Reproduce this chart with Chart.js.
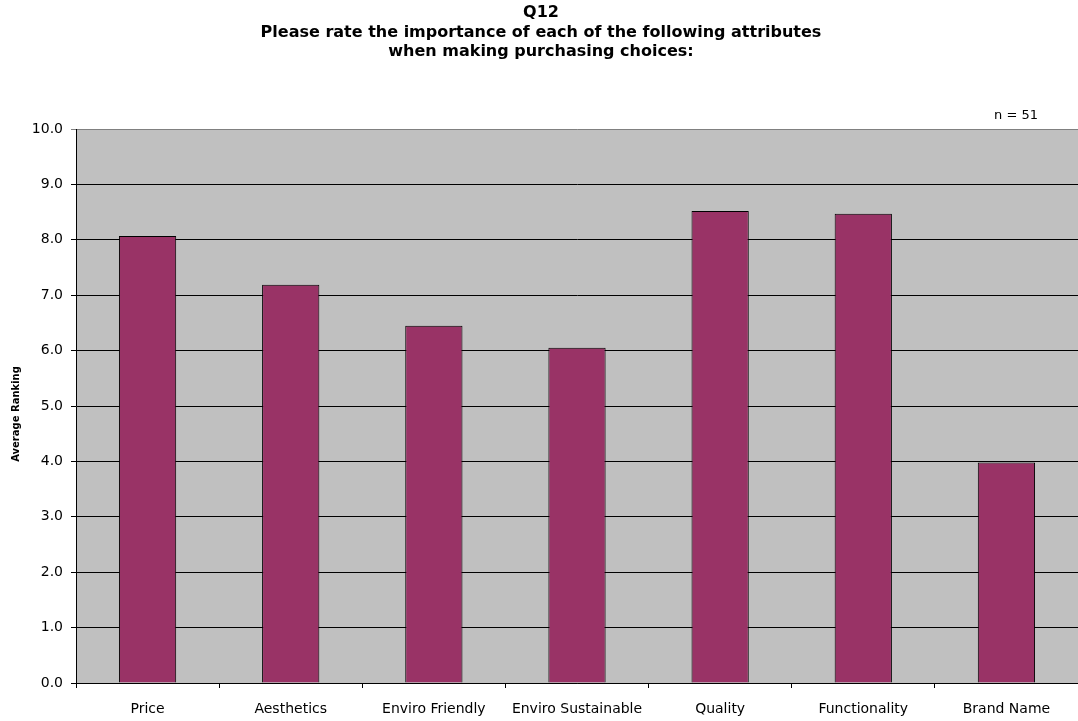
<!DOCTYPE html>
<html>
<head>
<meta charset="utf-8">
<script src="https://cdn.jsdelivr.net/npm/chart.js@4"></script>
<style>
  body { margin: 0; background: #fff; }
  canvas { display: block; }
</style>
</head>
<body>
<canvas id="q12Chart" width="1078" height="721"></canvas>
<script>
// Q12 data
const categories = ['Price', 'Aesthetics', 'Enviro Friendly', 'Enviro Sustainable', 'Quality', 'Functionality', 'Brand Name'];
const averageRanking = [8.07, 7.19, 6.45, 6.05, 8.52, 8.47, 3.98];
const titleLines = ['Q12', 'Please rate the importance of each of the following attributes', 'when making purchasing choices:'];
const sampleNote = 'n = 51';
const yAxisTitle = 'Average Ranking';

const FONT = '"DejaVu Sans", "Liberation Sans", sans-serif';

// grey plot background plus the texts around the plot
const decorPlugin = {
    id: 'decor',
    beforeDraw(chart) {
        const ctx = chart.ctx;
        const a = chart.chartArea;
        ctx.save();
        ctx.fillStyle = '#C0C0C0';
        ctx.fillRect(a.left, a.top, a.right - a.left, a.bottom - a.top);
        ctx.restore();
    },
    afterDraw(chart) {
        const ctx = chart.ctx;
        ctx.save();
        ctx.fillStyle = '#000';
        ctx.textAlign = 'center';
        ctx.textBaseline = 'middle';
        ctx.font = 'bold 16px ' + FONT;
        titleLines.forEach((line, i) => {
            ctx.fillText(line, 541, 13 + i * 19.5);
        });
        ctx.font = '13px ' + FONT;
        ctx.fillText(sampleNote, 1016, 116);
        ctx.translate(16, 414);
        ctx.rotate(-Math.PI / 2);
        ctx.font = 'bold 10px ' + FONT;
        ctx.fillText(yAxisTitle, 0, 0);
        ctx.restore();
    }
};

new Chart(document.getElementById('q12Chart').getContext('2d'), {
    type: 'bar',
    data: {
        labels: categories,
        datasets: [{
            data: averageRanking,
            backgroundColor: '#993366',
            borderColor: '#000',
            borderWidth: 1,
            barPercentage: 0.4,
            categoryPercentage: 1.0
        }]
    },
    options: {
        responsive: false,
        animation: false,
        layout: { padding: { top: 129, left: 0, right: 0, bottom: 0 } },
        plugins: {
            legend: { display: false },
            title: { display: false },
            tooltip: { enabled: false }
        },
        scales: {
            x: {
                afterFit(scale) { scale.height = 38; },
                grid: {
                    offset: true,
                    drawOnChartArea: false,
                    color: '#000',
                    tickLength: 5
                },
                border: { color: '#000', width: 1 },
                ticks: {
                    color: '#000',
                    padding: 13,
                    font: { family: FONT, size: 14 }
                }
            },
            y: {
                min: 0,
                max: 10,
                afterFit(scale) { scale.width = 76; },
                grid: {
                    color: ctx => (ctx.tick && ctx.tick.value === 10) ? '#808080' : '#000',
                    tickLength: 5
                },
                border: { color: '#000', width: 1 },
                ticks: {
                    stepSize: 1,
                    color: '#000',
                    padding: 8,
                    font: { family: FONT, size: 14 },
                    callback: v => v.toFixed(1)
                }
            }
        }
    },
    plugins: [decorPlugin]
});
</script>
</body>
</html>
